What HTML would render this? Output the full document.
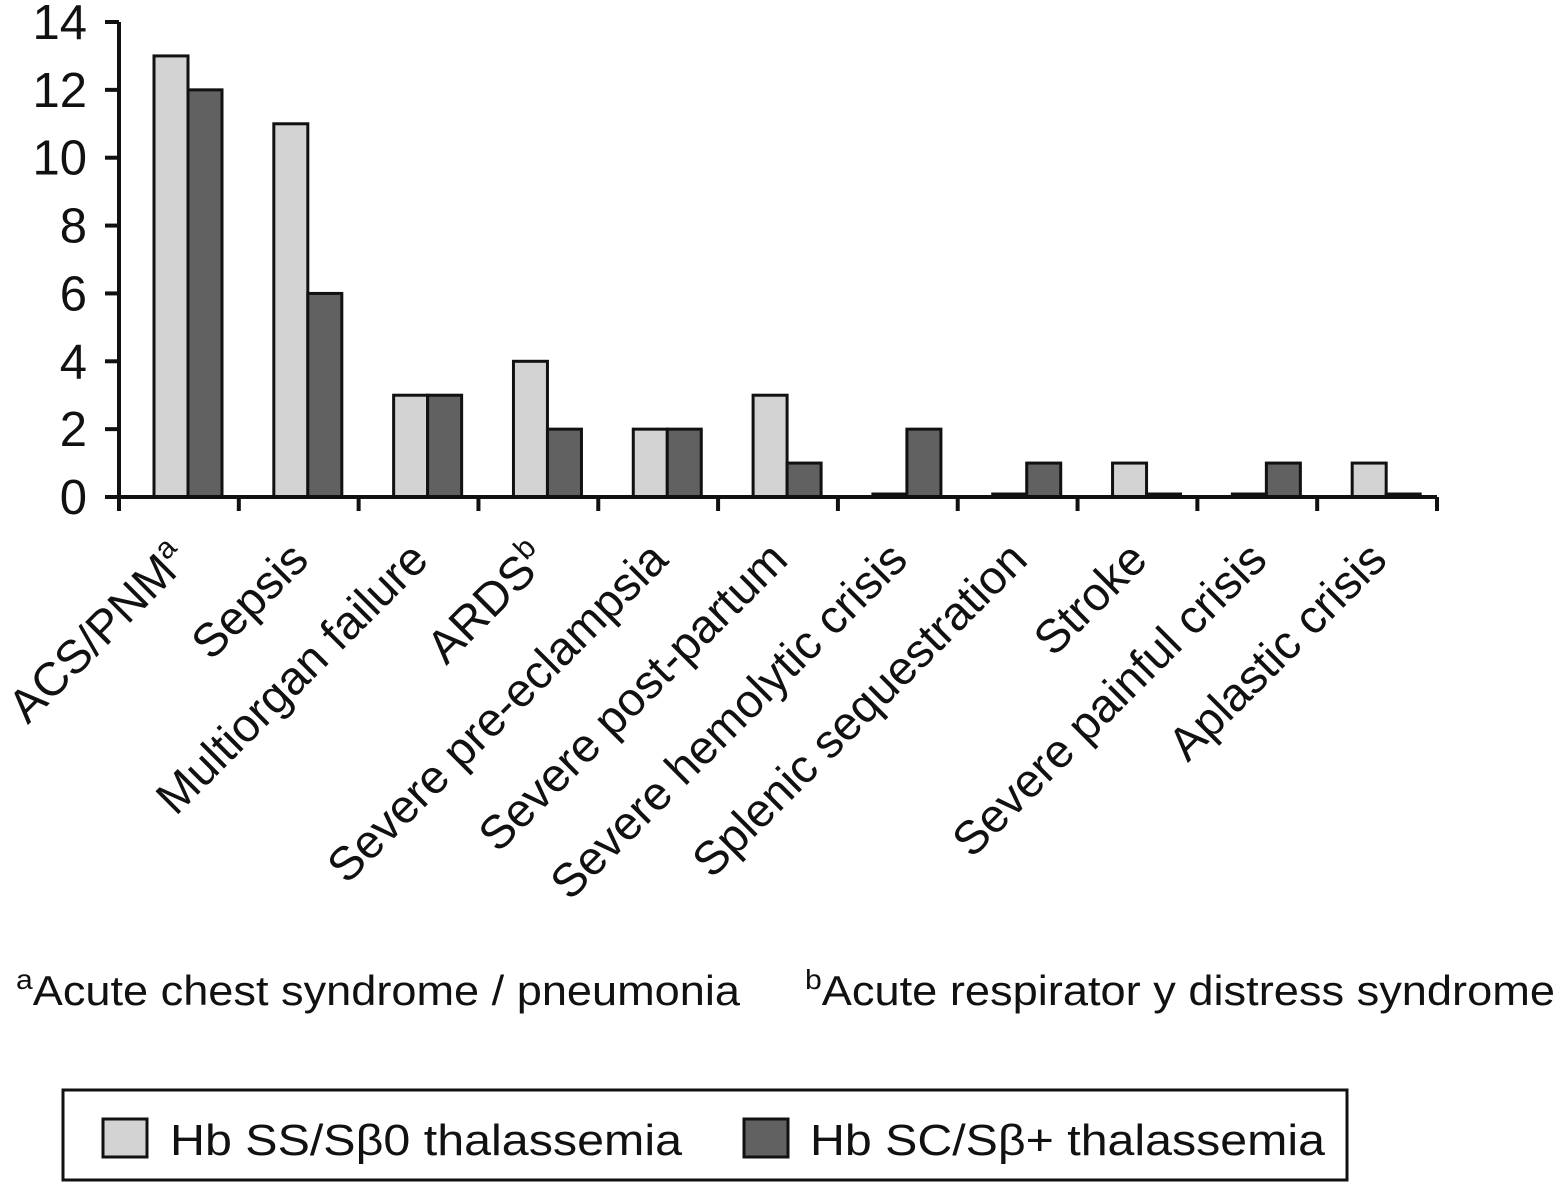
<!DOCTYPE html>
<html><head><meta charset="utf-8"><style>
html,body{margin:0;padding:0;background:#fff;}
svg{display:block;font-family:"Liberation Sans",Arial,sans-serif;}
</style></head><body>
<svg id="chart" width="1561" height="1185" viewBox="0 0 1561 1185" xmlns="http://www.w3.org/2000/svg">
<g id="plot"></g>
<g font-size="42" fill="#111">
  <text x="16" y="1005" textLength="724" lengthAdjust="spacingAndGlyphs"><tspan font-size="28" dy="-16">a</tspan><tspan dy="16">Acute chest syndrome / pneumonia</tspan></text>
  <text x="805" y="1005" textLength="750" lengthAdjust="spacingAndGlyphs"><tspan font-size="28" dy="-16">b</tspan><tspan dy="16">Acute respirator  y distress syndrome</tspan></text>
</g>
<g>
  <rect x="63" y="1090" width="1284" height="90" fill="#fff" stroke="#111" stroke-width="3"/>
  <rect x="103" y="1119" width="44" height="38" fill="#d3d3d3" stroke="#111" stroke-width="3"/>
  <text x="170" y="1155" font-size="44" fill="#111" textLength="512" lengthAdjust="spacingAndGlyphs">Hb SS/Sβ0 thalassemia</text>
  <rect x="744" y="1119" width="44" height="38" fill="#616161" stroke="#111" stroke-width="3"/>
  <text x="810" y="1155" font-size="44" fill="#111" textLength="515" lengthAdjust="spacingAndGlyphs">Hb SC/Sβ+ thalassemia</text>
</g>
</svg>
<script>
const categories = ["ACS/PNM","Sepsis","Multiorgan failure","ARDS","Severe pre-eclampsia","Severe post-partum","Severe hemolytic crisis","Splenic sequestration","Stroke","Severe painful crisis","Aplastic crisis"];
const superscripts = ["a","","","b","","","","","","",""];
const seriesSS = [13,11,3,4,2,3,0,0,1,0,1];
const seriesSC = [12,6,3,2,2,1,2,1,0,1,0];
const yTicks = [0,2,4,6,8,10,12,14];

const NS="http://www.w3.org/2000/svg";
const g=document.getElementById('plot');
const X0=119, X1=1437, Y0=497, YTOP=22, YMAX=14;
const bw=(X1-X0)/categories.length;
function y(v){return Y0-(v/YMAX)*(Y0-YTOP);}
function x(i){return X0+i*bw;}
function mk(tag,attrs){const e=document.createElementNS(NS,tag);for(const k in attrs)e.setAttribute(k,attrs[k]);g.appendChild(e);return e;}

function bar(i,v,off,fill,name){
  const top=v===0?Y0-3:y(v);
  const r=mk('rect',{x:x(i)+off,y:top,width:34,height:Y0-top,fill:fill,stroke:'#111','stroke-width':3});
  
  
}
categories.forEach((c,i)=>{
  bar(i,seriesSS[i],35,'#d3d3d3','bar-ss-'+i);
  bar(i,seriesSC[i],69,'#616161','bar-sc-'+i);
});
const ya=mk('line',{x1:X0,y1:YTOP,x2:X0,y2:511,stroke:'#111','stroke-width':4});


const xa=mk('line',{x1:105,y1:Y0,x2:X1,y2:Y0,stroke:'#111','stroke-width':4});


yTicks.forEach(t=>{
  const l=mk('line',{x1:105,y1:y(t),x2:X0,y2:y(t),stroke:'#111','stroke-width':4});
  
  
  const tx=mk('text',{x:87,y:y(t)+17,'font-size':49,'text-anchor':'end',fill:'#111'});
  tx.textContent=t;
  
  
});
for(let i=1;i<=categories.length;i++){
  const l=mk('line',{x1:x(i),y1:Y0,x2:x(i),y2:511,stroke:'#111','stroke-width':4});
  
  
}
categories.forEach((c,i)=>{
  const cx=x(i)+bw/2+12, cy=562;
  const t=mk('text',{x:cx,y:cy,'font-size':47,'text-anchor':'end',fill:'#111',transform:`rotate(-45 ${cx} ${cy})`});
  t.textContent=c;
  if(superscripts[i]){const s=document.createElementNS(NS,'tspan');s.setAttribute('font-size','30');s.setAttribute('dy','-18');s.textContent=superscripts[i];t.appendChild(s);}
  
  
});
</script>
</body></html>
